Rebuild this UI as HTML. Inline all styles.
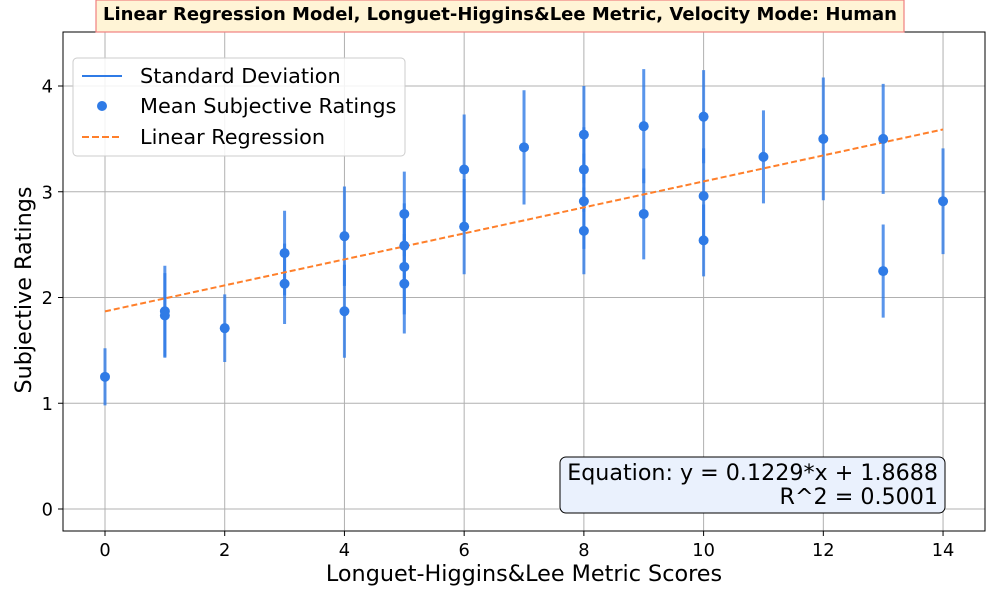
<!DOCTYPE html>
<html><head><meta charset="utf-8"><style>
body{margin:0;background:#fff;font-family:"Liberation Sans","DejaVu Sans",sans-serif;}
</style></head><body>
<svg id="chart" width="1000" height="600" xmlns="http://www.w3.org/2000/svg" font-family="DejaVu Sans, Liberation Sans, sans-serif">
<g id="grid"></g>
<g id="marks"></g>
<rect x="63" y="32" width="922" height="499" fill="none" stroke="#000" stroke-width="1"/>
<g id="ticks"></g>
<text x="524" y="581" text-anchor="middle" font-size="22.3">Longuet-Higgins&amp;Lee Metric Scores</text>
<text transform="translate(31,290) rotate(-90)" text-anchor="middle" font-size="22.3">Subjective Ratings</text>
<g>
<rect x="96" y="0" width="808" height="32" fill="#fff4d6" stroke="#f08080" stroke-width="1.2"/>
<text x="500" y="20" text-anchor="middle" font-size="18" font-weight="bold">Linear Regression Model, Longuet-Higgins&amp;Lee Metric, Velocity Mode: Human</text>
</g>
<g>
<rect x="73" y="58" width="332" height="98" rx="4" fill="#fff" fill-opacity="0.85" stroke="#ccc"/>
<line x1="82" y1="76" x2="122" y2="76" stroke="#2f7be6" stroke-width="2"/>
<text x="140" y="83" font-size="20.8">Standard Deviation</text>
<circle cx="102" cy="106" r="5" fill="#2f7be6"/>
<text x="140" y="113" font-size="20.8">Mean Subjective Ratings</text>
<line x1="82" y1="137" x2="122" y2="137" stroke="#ff7f2a" stroke-width="2" stroke-dasharray="7,3"/>
<text x="140" y="144" font-size="20.8">Linear Regression</text>
</g>
<g>
<rect x="560" y="457" width="385" height="56" rx="6" fill="#eaf1fd" stroke="#000" stroke-width="1"/>
<text x="938" y="480" text-anchor="end" font-size="22.2">Equation: y = 0.1229*x + 1.8688</text>
<text x="938" y="504" text-anchor="end" font-size="22.2">R^2 = 0.5001</text>
</g>
</svg>
<script>
const xs =   [0,1,1,2,3,3,4,4,5,5,5,5,6,6,7,8,8,8,8,9,9,10,10,10,11,12,13,13,14];
const means =[1.25,1.87,1.83,1.71,2.42,2.13,2.58,1.87,2.79,2.49,2.29,2.13,3.21,2.67,3.42,3.54,3.21,2.91,2.63,3.62,2.79,3.71,2.96,2.54,3.33,3.50,3.50,2.25,2.91];
const sds =  [0.27,0.43,0.40,0.32,0.40,0.38,0.47,0.44,0.40,0.40,0.45,0.47,0.52,0.45,0.54,0.46,0.40,0.45,0.41,0.54,0.43,0.44,0.45,0.34,0.44,0.58,0.52,0.44,0.50];
const slope = 0.1229, intercept = 1.8688;
const xTicks = [0,2,4,6,8,10,12,14];
const yTicks = [0,1,2,3,4];
const NS="http://www.w3.org/2000/svg";
const X = v => 105 + v*59.86;
const Y = v => 509 - v*105.75;
function mk(tag, attrs, parent){const e=document.createElementNS(NS,tag);for(const k in attrs)e.setAttribute(k,attrs[k]);document.getElementById(parent).appendChild(e);return e;}
xTicks.forEach(t=>{
  const g=mk('line',{x1:X(t),x2:X(t),y1:32,y2:531,stroke:'#b0b0b0','stroke-width':1},'grid');
  
  
  mk('line',{x1:X(t),x2:X(t),y1:531,y2:536,stroke:'#000'},'ticks');
  const l=mk('text',{x:X(t),y:556,'text-anchor':'middle','font-size':17.8},'ticks');
  l.textContent=t;
  
  
});
yTicks.forEach(t=>{
  const g=mk('line',{x1:63,x2:985,y1:Y(t),y2:Y(t),stroke:'#b0b0b0','stroke-width':1},'grid');
  
  
  mk('line',{x1:58,x2:63,y1:Y(t),y2:Y(t),stroke:'#000'},'ticks');
  const l=mk('text',{x:53,y:Y(t)+6.5,'text-anchor':'end','font-size':17.8},'ticks');
  l.textContent=t;
  
  
});
xs.forEach((x,i)=>{
  const e=mk('line',{x1:X(x),x2:X(x),y1:Y(means[i]-sds[i]),y2:Y(means[i]+sds[i]),stroke:'#2f7be6','stroke-width':3,'stroke-opacity':0.8},'marks');
  
  
});
const rl=mk('line',{x1:X(0),x2:X(14),y1:Y(intercept),y2:Y(intercept+slope*14),stroke:'#ff7f2a','stroke-width':2,'stroke-dasharray':'6,3'},'marks');


xs.forEach((x,i)=>{
  const c=mk('circle',{cx:X(x),cy:Y(means[i]),r:5,fill:'#2f7be6'},'marks');
  
  
});
</script>
</body></html>
